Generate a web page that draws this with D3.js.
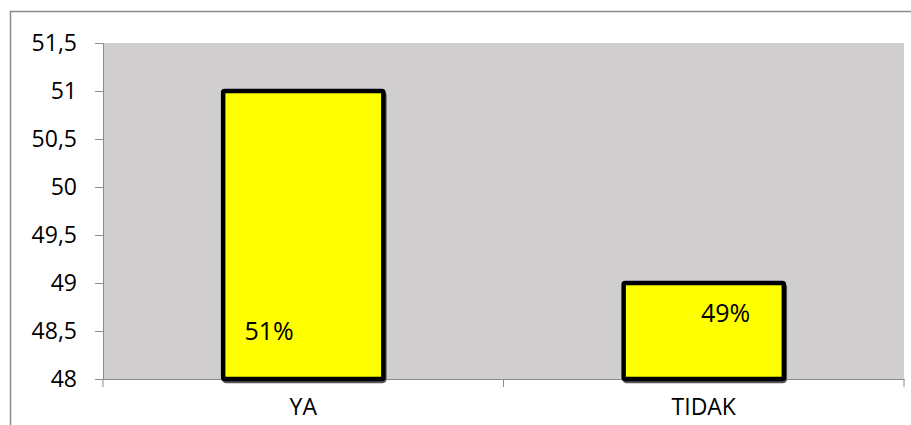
<!DOCTYPE html>
<html>
<head>
<meta charset="utf-8">
<script src="https://cdn.jsdelivr.net/npm/d3@7"></script>
<style>
  body { margin: 0; background: #fff; }
  text { font-family: "Open Sans", sans-serif; fill: #000; }
</style>
</head>
<body>
<div id="chart"></div>
<script>
// Chart data
const categories = ["YA", "TIDAK"];
const values = [51, 49];
const valueLabels = ["51%", "49%"];
const yTicks = [48, 48.5, 49, 49.5, 50, 50.5, 51, 51.5];

const width = 911;
const height = 425;
const margin = { top: 43, right: 7, bottom: 46, left: 103 };
const plotW = width - margin.left - margin.right;
const plotH = height - margin.top - margin.bottom;

const svg = d3.select("#chart")
    .append("svg")
    .attr("width", width)
    .attr("height", height);

// outer chart border (only top and left are visible in the window)
svg.append("rect")
    .attr("x", 10.5)
    .attr("y", 11.5)
    .attr("width", width + 20)
    .attr("height", height + 20)
    .attr("fill", "none")
    .attr("stroke", "#8c8c8c")
    .attr("stroke-width", 1.5);

const g = svg.append("g")
    .attr("transform", `translate(${margin.left}, ${margin.top})`);

// plot area background
g.append("rect")
    .attr("width", plotW)
    .attr("height", plotH)
    .attr("fill", "#d0cece");

const x = d3.scaleBand()
    .domain(categories)
    .range([0, plotW])
    .padding(0);

const y = d3.scaleLinear()
    .domain([48, 51.5])
    .range([plotH, 0]);

// y axis
const yAxis = g.append("g")
    .call(d3.axisLeft(y)
        .tickValues(yTicks)
        .tickSize(8)
        .tickPadding(18)
        .tickFormat(d => String(d).replace(".", ",")));
yAxis.selectAll("path, line").attr("stroke", "#8c8c8c");
yAxis.selectAll("text")
    .style("font-size", "23px")
    .attr("fill", "#000");

// x axis
const xAxis = g.append("g")
    .attr("transform", `translate(0, ${plotH})`)
    .call(d3.axisBottom(x).tickSize(0).tickPadding(20));
xAxis.select("path").attr("stroke", "#8c8c8c");
xAxis.selectAll("text")
    .style("font-size", "23px")
    .attr("fill", "#000");
// category separator ticks
xAxis.selectAll("line.sep")
    .data([0, x.step(), plotW])
    .enter()
    .append("line")
    .attr("class", "sep")
    .attr("x1", d => d)
    .attr("x2", d => d)
    .attr("y1", 0)
    .attr("y2", 8)
    .attr("stroke", "#8c8c8c");

// bars
const barW = x.bandwidth() * 0.4;
const data = categories.map((c, i) => ({ cat: c, value: values[i], label: valueLabels[i] }));

// faint shadow under each bar
g.selectAll("rect.shadow")
    .data(data)
    .enter()
    .append("rect")
    .attr("class", "shadow")
    .attr("x", d => x(d.cat) + (x.bandwidth() - barW) / 2 + 1)
    .attr("y", d => y(d.value) + 2)
    .attr("width", barW)
    .attr("height", d => plotH - y(d.value))
    .attr("rx", 2)
    .attr("fill", "none")
    .attr("stroke", "#555")
    .attr("stroke-width", 4.5);

g.selectAll("rect.bar")
    .data(data)
    .enter()
    .append("rect")
    .attr("class", "bar")
    .attr("x", d => x(d.cat) + (x.bandwidth() - barW) / 2)
    .attr("y", d => y(d.value))
    .attr("width", barW)
    .attr("height", d => plotH - y(d.value))
    .attr("rx", 1.5)
    .attr("fill", "#ffff00")
    .attr("stroke", "#000")
    .attr("stroke-width", 4.5);

// value labels (placed as in the original, inside the bars)
const labelOffsets = [46, 102];
const labelDrops = [249, 39];
g.selectAll("text.label")
    .data(data)
    .enter()
    .append("text")
    .attr("class", "label")
    .attr("x", (d, i) => x(d.cat) + (x.bandwidth() - barW) / 2 + labelOffsets[i])
    .attr("y", (d, i) => y(d.value) + labelDrops[i])
    .attr("text-anchor", "middle")
    .style("font-size", "25px")
    .text(d => d.label);
</script>
</body>
</html>
